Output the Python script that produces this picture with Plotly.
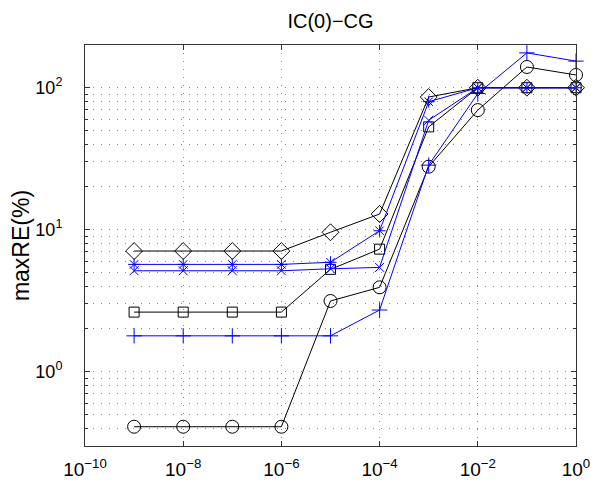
import plotly.graph_objects as go

x_vals = [1e-9, 1e-8, 1e-7, 1e-6, 1e-5, 1e-4, 1e-3, 1e-2, 1e-1, 1e0]

diamond_black = [7.08, 7.08, 7.08, 7.08, 9.6, 12.9, 86, 100, 100, 100]
square_black = [2.63, 2.63, 2.63, 2.63, 5.26, 7.3, 53, 100, 100, 100]
circle_black = [0.41, 0.41, 0.41, 0.41, 3.15, 3.93, 27.8, 69.6, 140, 123]
star_blue = [5.7, 5.7, 5.7, 5.7, 5.9, 9.84, 79.7, 100, 100, 100]
x_blue = [5.14, 5.14, 5.14, 5.14, 5.31, 5.43, 59, 100, 100, 100]
plus_blue = [1.79, 1.79, 1.79, 1.79, 1.79, 2.72, 28.5, 91, 176, 154]

x_tickvals = [1e-10, 1e-8, 1e-6, 1e-4, 1e-2, 1e0]
x_ticktext = ["10<sup>−10</sup>", "10<sup>−8</sup>", "10<sup>−6</sup>",
              "10<sup>−4</sup>", "10<sup>−2</sup>", "10<sup>0</sup>"]
y_tickvals = [1, 10, 100]
y_ticktext = ["10<sup>0</sup>", "10<sup>1</sup>", "10<sup>2</sup>"]
y_minor_vals = [0.3, 0.4, 0.5, 0.6, 0.7, 0.8, 0.9,
                2, 3, 4, 5, 6, 7, 8, 9,
                20, 30, 40, 50, 60, 70, 80, 90, 200]

BLACK = "#000000"
BLUE = "#0000FF"

series = [
    (diamond_black, BLACK, "diamond-open", 13),
    (square_black, BLACK, "square-open", 10),
    (circle_black, BLACK, "circle-open", 13),
    (star_blue, BLUE, "asterisk-open", 10),
    (x_blue, BLUE, "x-thin-open", 9),
    (plus_blue, BLUE, "cross-thin-open", 11),
]

fig = go.Figure()
for ys, col, sym, sz in series:
    fig.add_trace(go.Scatter(
        x=x_vals, y=ys, mode="lines+markers",
        line=dict(color=col, width=1),
        marker=dict(symbol=sym, size=sz, color=col, line=dict(color=col, width=1)),
        showlegend=False, cliponaxis=False,
    ))

FONT = "Liberation Sans, Arial, sans-serif"
GRID = "#8a8a8a"
AX = "#333333"
# page body has an 8px margin; compensate so the plot box lands at 85..576 x 45..446
fig.update_layout(
    width=592, height=479,
    margin=dict(l=77, r=24, t=37, b=41),
    paper_bgcolor="white", plot_bgcolor="white",
    title=dict(text="IC(0)−CG", x=0.5, xanchor="center", xref="paper",
               y=1 - 13 / 479, yanchor="middle", yref="container",
               font=dict(family=FONT, size=20, color="#000")),
    font=dict(family=FONT, color="#000"),
)

fig.update_xaxes(
    type="log", range=[-10, 0], automargin=False,
    tickvals=x_tickvals, ticktext=x_ticktext,
    tickfont=dict(family=FONT, size=19, color="#000"),
    ticks="inside", ticklen=5, tickcolor=AX, ticklabelstandoff=6,
    showline=True, linecolor=AX, linewidth=1, mirror="ticks",
    showgrid=True, gridcolor=GRID, griddash="1px,7px", gridwidth=1,
    zeroline=False,
)
fig.update_yaxes(
    type="log", range=[-0.523, 2.301], automargin=False,
    tickvals=y_tickvals, ticktext=y_ticktext,
    tickfont=dict(family=FONT, size=18, color="#000"),
    ticks="inside", ticklen=5, tickcolor=AX, ticklabelstandoff=18,
    showline=True, linecolor=AX, linewidth=1, mirror="ticks",
    showgrid=True, gridcolor=GRID, griddash="1px,7px", gridwidth=1,
    minor=dict(tickvals=y_minor_vals,
               ticks="inside", ticklen=3, tickcolor=AX,
               showgrid=True, gridcolor=GRID, griddash="1px,7px", gridwidth=1),
    title=dict(text="maxRE(%)", font=dict(family=FONT, size=23, color="#000"), standoff=12),
    zeroline=False,
)

fig.write_html("out.html")
